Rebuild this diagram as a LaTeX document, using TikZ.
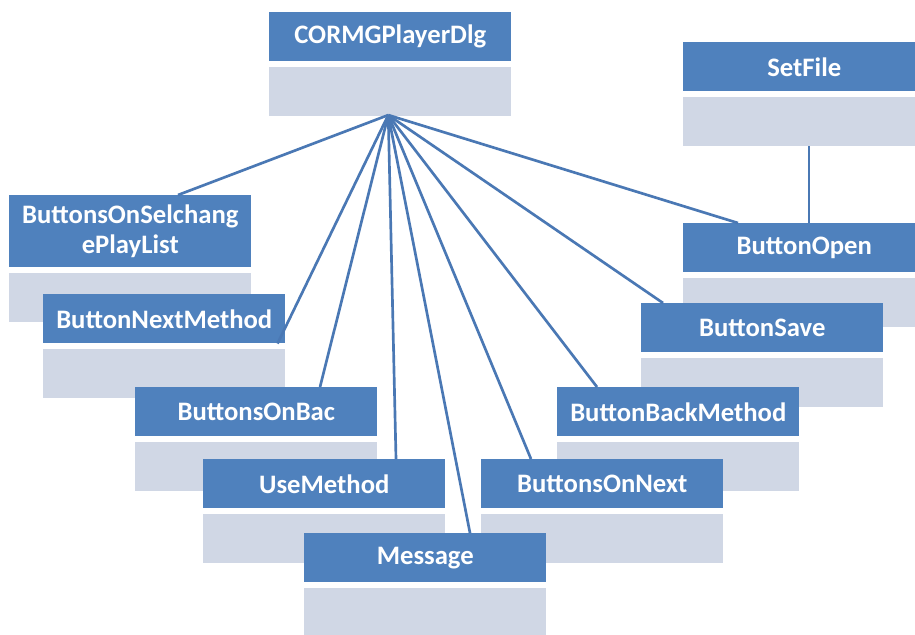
\documentclass[tikz,border=0pt]{standalone}
\usepackage{fontspec}
\setmainfont{Carlito}
\usetikzlibrary{positioning,calc}

\definecolor{hdrblue}{HTML}{4F81BD}
\definecolor{bodygray}{HTML}{D0D7E5}
\definecolor{linkblue}{HTML}{4A78B4}

\begin{document}
\begin{tikzpicture}[x=0.75pt, y=-0.75pt, node distance=3.75pt]

\clip (0,0) rectangle (915,635);
\fill[white] (0,0) rectangle (915,635);

\tikzset{hdr/.style={rectangle, fill=hdrblue, text=white, anchor=north west, inner sep=0pt,
  minimum width=181.5pt, minimum height=36.75pt, align=center,
  font=\fontsize{20}{23}\selectfont\bfseries}}
\tikzset{body/.style={rectangle, fill=bodygray, inner sep=0pt,
  minimum width=181.5pt, minimum height=36.75pt}}

% left column
\node[hdr] (dlg) at (269,12) {CORMGPlayerDlg};
\node[body, below=of dlg] (dlgb) {};
\node[hdr, minimum height=54pt] (sel) at (9,195) {ButtonsOnSelchang\\ePlayList};
\node[body, below=of sel] (selb) {};
\node[hdr] (nextm) at (43,294) {ButtonNextMethod};
\node[body, below=of nextm] (nextmb) {};
\node[hdr] (bac) at (135,387) {ButtonsOnBac};
\node[body, below=of bac] (bacb) {};
\node[hdr] (use) at (203,459) {UseMethod};
\node[body, below=of use] (useb) {};

% right column
\node[hdr] (setf) at (683,42) {SetFile};
\node[body, below=of setf] (setfb) {};
\node[hdr] (open) at (683,223) {ButtonOpen};
\node[body, below=of open] (openb) {};
\node[hdr] (save) at (641,303) {ButtonSave};
\node[body, below=of save] (saveb) {};
\node[hdr] (backm) at (557,387) {ButtonBackMethod};
\node[body, below=of backm] (backmb) {};
\node[hdr] (onnext) at (481,459) {ButtonsOnNext};
\node[body, below=of onnext] (onnextb) {};

\node[hdr] (msg) at (304,533) {Message};
\node[body, below=of msg] (msgb) {};

\tikzset{link/.style={draw=linkblue, line width=2pt}};
\coordinate (hub) at ($(dlgb.south)+(-2,-1)$);
\path (hub) edge [link] ($(sel.north west)+(169,0)$);
\path (hub) edge [link] ($(nextm.south east)+(-8,0)$);
\path (hub) edge [link] ($(bac.north west)+(185,0)$);
\path (hub) edge [link] ($(use.north west)+(193,0)$);
\path (hub) edge [link] ($(msg.north west)+(166,0)$);
\path (hub) edge [link] ($(onnext.north west)+(50,0)$);
\path (hub) edge [link] ($(backm.north west)+(40,0)$);
\path (hub) edge [link] ($(save.north west)+(22,0)$);
\path (hub) edge [link] ($(open.north west)+(55,0)$);
\path ($(setfb.south west)+(126,0)$) edge [link] ($(open.north west)+(126,0)$);
\end{tikzpicture}
\end{document}
